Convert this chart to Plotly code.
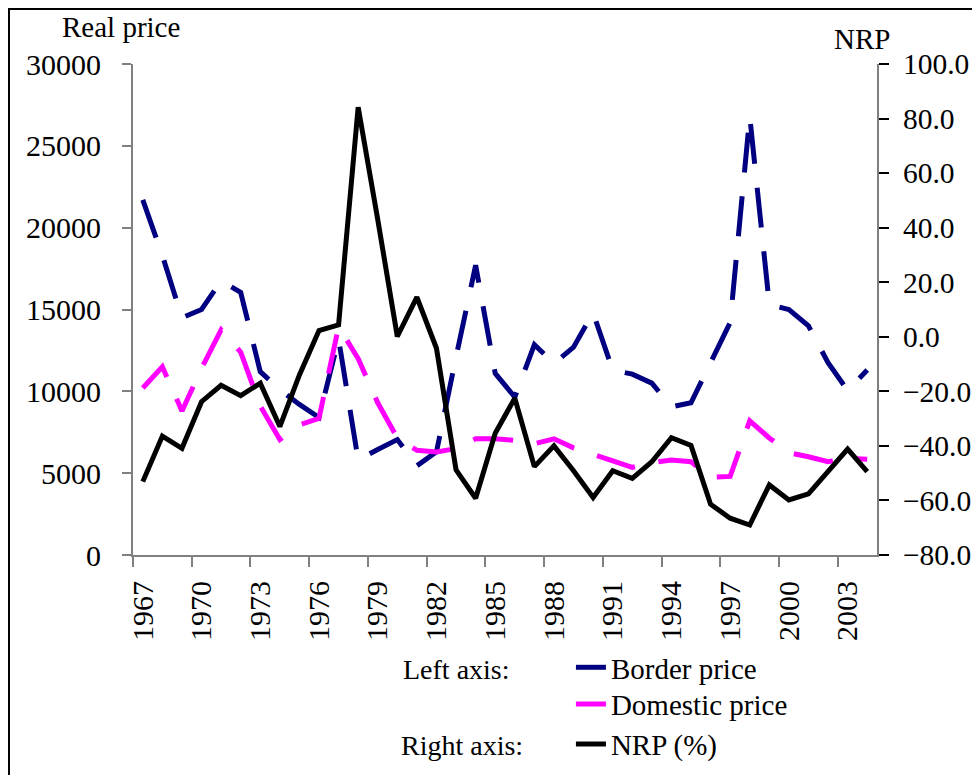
import plotly.graph_objects as go

years = [1967, 1968, 1969, 1970, 1971, 1972, 1973, 1974, 1975, 1976,
         1977, 1978, 1979, 1980, 1981, 1982, 1983, 1984, 1985, 1986,
         1987, 1988, 1989, 1990, 1991, 1992, 1993, 1994, 1995, 1996,
         1997, 1998, 1999, 2000, 2001, 2002, 2003, 2004]

border_price = [21700, 18300, 14500, 15000, 16750, 16050, 11200, 10100, 9200, 8400,
                13200, 5800, 6450, 7050, 5450, 6300, 12100, 17700, 11100, 9650,
                12850, 11700, 12700, 14800, 11300, 11050, 10500, 9050, 9300, 11800,
                14200, 26800, 15300, 15000, 14000, 11750, 10050, 11300]

domestic_price = [10200, 11500, 8800, 11400, 13750, 12400, 9100, 7050, 7950, 8350,
                  13950, 12000, 9300, 7150, 6400, 6300, 6500, 7100, 7100, 7000,
                  6800, 7100, 6550, 6150, 5750, 5350, 5650, 5800, 5700, 4750,
                  4800, 8200, 7150, 6250, 6000, 5700, 5900, 5850]

nrp = [-53.1, -36.4, -40.9, -23.8, -17.8, -21.6, -17.0, -32.9, -14.0, 2.3,
       4.4, 84.2, 43.0, 0.1, 14.5, -4.2, -48.8, -59.2, -35.4, -22.5,
       -47.6, -40.0, -49.1, -58.9, -49.1, -51.9, -45.8, -37.0, -39.8, -61.4,
       -66.5, -69.0, -54.3, -59.8, -57.6, -49.4, -41.2, -49.4]

x_tick_years = [1967, 1970, 1973, 1976, 1979, 1982, 1985, 1988, 1991, 1994, 1997, 2000, 2003]

FONT = "Liberation Serif, Times New Roman, serif"
NAVY = "#000080"
MAGENTA = "#FF00FF"
AXIS_GREY = "#808080"

fig = go.Figure()
fig.add_trace(go.Scatter(x=years, y=border_price, name="Border price", mode="lines",
                         line=dict(color=NAVY, width=5, dash="40px,24px"),
                         yaxis="y", legend="legend"))
fig.add_trace(go.Scatter(x=years, y=domestic_price, name="Domestic price", mode="lines",
                         line=dict(color=MAGENTA, width=5, dash="40px,24px"),
                         yaxis="y", legend="legend2"))
fig.add_trace(go.Scatter(x=years, y=nrp, name="NRP (%)", mode="lines",
                         line=dict(color="black", width=5),
                         yaxis="y2", legend="legend3"))

leg_common = dict(x=0.5886, xanchor="left", yanchor="middle",
                  font=dict(family=FONT, size=29, color="black"),
                  bgcolor="rgba(0,0,0,0)", itemwidth=30, borderwidth=0)

fig.update_layout(
    width=964, height=767,
    margin=dict(l=125, r=95, t=56, b=220, autoexpand=False),
    paper_bgcolor="white", plot_bgcolor="white",
    font=dict(family=FONT, size=30, color="black"),
    showlegend=True,
    legend=dict(y=-0.229, **leg_common),
    legend2=dict(y=-0.304, **leg_common),
    legend3=dict(y=-0.385, **leg_common),
    xaxis=dict(range=[1966.5, 2004.5], tickmode="array", tickvals=x_tick_years,
               ticktext=[str(v) for v in x_tick_years], tickangle=-90,
               ticks="", showgrid=False, zeroline=False, automargin=False,
               showline=True, linecolor=AXIS_GREY, linewidth=2,
               ticklabelstandoff=12,
               minor=dict(tick0=1966.5, dtick=3, ticks="outside", ticklen=10,
                          tickcolor=AXIS_GREY, tickwidth=2, showgrid=False),
               tickfont=dict(family=FONT, size=30, color="black")),
    yaxis=dict(range=[0, 30000], tickmode="linear", tick0=0, dtick=5000, tickformat="d",
               ticks="outside", ticklen=9, tickcolor=AXIS_GREY, tickwidth=2,
               showgrid=False, zeroline=False, showline=True, automargin=False,
               linecolor=AXIS_GREY, linewidth=2, ticklabelstandoff=15,
               tickfont=dict(family=FONT, size=30, color="black")),
    yaxis2=dict(range=[-80, 100], tickmode="linear", tick0=-80, dtick=20,
                tickformat=".1f", overlaying="y", side="right", automargin=False,
                ticks="outside", ticklen=10, tickcolor="black", tickwidth=1.5,
                showgrid=False, zeroline=False, showline=True,
                linecolor=AXIS_GREY, linewidth=2, ticklabelstandoff=8,
                tickfont=dict(family=FONT, size=29.5, color="black")),
    yaxis3=dict(range=[-80, 100], tickmode="linear", tick0=-80, dtick=20,
                overlaying="y", side="right", anchor="x", automargin=False,
                ticks="inside", ticklen=9, tickcolor="black", tickwidth=1.5,
                showticklabels=False, showgrid=False, zeroline=False, showline=False),
    annotations=[
        dict(text="Real price", xref="paper", yref="paper", x=-0.016, y=1.076,
             xanchor="center", yanchor="middle", showarrow=False,
             font=dict(family=FONT, size=29, color="black")),
        dict(text="NRP", xref="paper", yref="paper", x=0.98, y=1.05,
             xanchor="center", yanchor="middle", showarrow=False,
             font=dict(family=FONT, size=29, color="black")),
        dict(text="Left axis:", xref="paper", yref="paper", x=0.3598, y=-0.2322,
             xanchor="left", yanchor="middle", showarrow=False,
             font=dict(family=FONT, size=28, color="black")),
        dict(text="Right axis:", xref="paper", yref="paper", x=0.358, y=-0.387,
             xanchor="left", yanchor="middle", showarrow=False,
             font=dict(family=FONT, size=28, color="black")),
    ],
    shapes=[
        dict(type="rect", xref="paper", yref="paper", x0=-0.1667, y0=-0.6, x1=1.2, y1=1.112,
             line=dict(color="black", width=2), fillcolor="rgba(0,0,0,0)", layer="below"),
    ],
)

fig.write_html("out.html")
